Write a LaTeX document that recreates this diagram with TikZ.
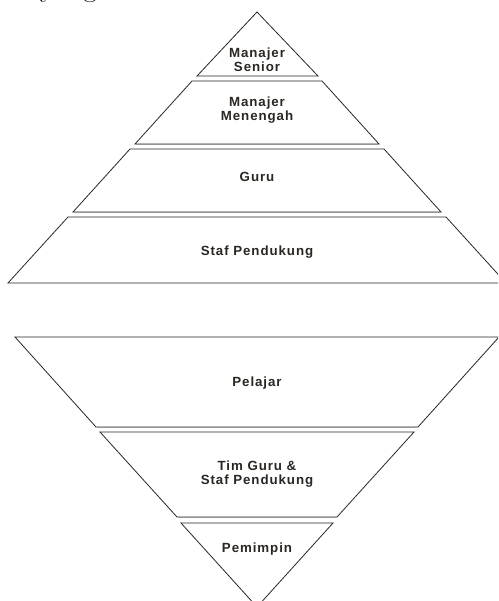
\documentclass[tikz,border=0pt]{standalone}
\usepackage{fontspec}
\newfontfamily\lblfont{Liberation Sans}[LetterSpace=7]
\definecolor{ink}{RGB}{42,38,34}
\definecolor{rim}{RGB}{150,148,145}
\tikzset{
  band/.style={draw=ink, line width=0.8pt, line join=miter},
  rimline/.style={draw=rim, line width=0.9pt},
  lbl/.style={font=\lblfont\bfseries\fontsize{13.3}{14}\selectfont, text=ink, align=center, inner sep=0pt}
}

\begin{document}
\begin{tikzpicture}[x=1pt,y=-1pt]
   \clip (0,0) rectangle (498,601);
   \node[font=\fontsize{30}{30}\selectfont, anchor=base west, inner sep=0pt](yang) at (40,-3) {yang};

   % top pyramid
   \draw[band] (257,12) -- (318,76) -- (197,76) -- cycle;
   \draw[band] (192,81) -- (322,81) -- (379,144) -- (135,144) -- cycle;
   \draw[band] (130,149) -- (384,149) -- (441,212) -- (73,212) -- cycle;
   \draw[band] (68,217) -- (446,217) -- (506,283) -- (8,283) -- cycle;
   \draw[rimline] (136,144) -- (378,144);
   \draw[rimline] (74,212) -- (440,212);

   % bottom pyramid
   \draw[band] (15,337) -- (499,337) -- (418,427) -- (96,427) -- cycle;
   \draw[band] (100,432) -- (414,432) -- (337,517) -- (177,517) -- cycle;
   \draw[band] (181,523) -- (333,523) -- (257,607) -- cycle;
   \draw[rimline] (97,427) -- (417,427);
   \draw[rimline] (178,517) -- (336,517);

   \node[lbl](senior) at (257,59.5) {Manajer\\Senior};
   \node[lbl](menengah) at (257,110) {Manajer\\Menengah};
   \node[lbl](guru) at (257,177) {Guru};
   \node[lbl](staf) at (257,252) {Staf Pendukung};
   \node[lbl](pelajar) at (257,383) {Pelajar};
   \node[lbl](tim) at (257,474.5) {Tim Guru \&\\Staf Pendukung};
   \node[lbl](pemimpin) at (257,549) {Pemimpin};
\end{tikzpicture}
\end{document}
